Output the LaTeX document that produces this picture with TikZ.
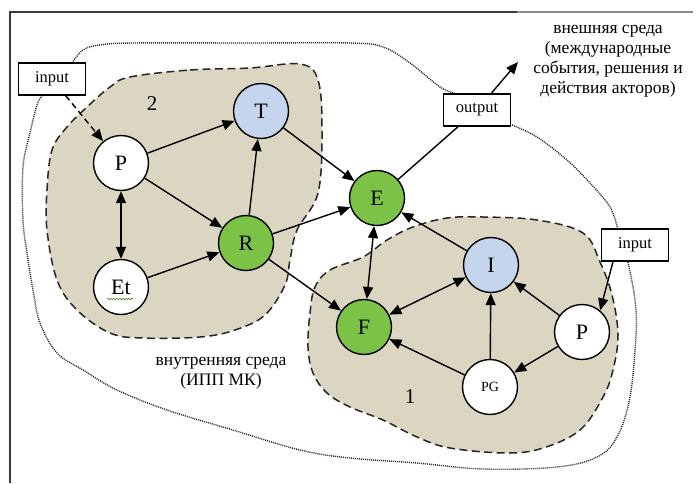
\documentclass[tikz,border=0pt]{standalone}
\usepackage{fontspec}
\setmainfont{Liberation Serif}
\usetikzlibrary{arrows.meta,decorations.pathmorphing}
\definecolor{beige}{RGB}{219,214,194}
\definecolor{ngreen}{RGB}{124,194,70}
\definecolor{nblue}{RGB}{197,213,237}
\definecolor{framegray}{RGB}{60,60,60}
\tikzset{
  vert/.style={circle,draw=black,line width=1.4pt,minimum size=55pt,inner sep=0pt,font=\fontsize{22}{24}\selectfont},
  wvert/.style={vert,fill=white},
  gvert/.style={vert,fill=ngreen},
  bvert/.style={vert,fill=nblue},
  lbox/.style={draw=black,line width=1.3pt,fill=white,minimum width=67pt,minimum height=32pt,inner sep=0pt,font=\fontsize{16.5}{18}\selectfont},
  arr/.style={line width=1.4pt,-{Triangle[length=12pt,width=10pt]}},
  darr/.style={line width=1.4pt,{Triangle[length=12pt,width=10pt]}-{Triangle[length=12pt,width=10pt]}},
  region/.style={fill=beige,draw=black!85,line width=1.5pt,dash pattern=on 8pt off 4.5pt},
  outer/.style={draw=black!85,line width=1.4pt,dash pattern=on 1pt off 1pt},
  lbl/.style={font=\fontsize{17.5}{20}\selectfont,align=center},
}
\begin{document}
\begin{tikzpicture}[x=1pt,y=-1pt]
\useasboundingbox (0,0) rectangle (700,483);
\fill[white] (0,0) rectangle (700,483);
% frame
\draw[framegray,line width=1.6pt] (10,483) -- (10,12) -- (517,12);
\draw[black!45,line width=1.4pt] (517,12) -- (693,12);
% regions
\path[region] plot[smooth cycle,tension=0.6] coordinates {
 (130,77) (190,70) (250,68) (300,64) (318,80) (322,130) (318,193) (297,230)
 (290,260) (285,285) (265,315) (235,330) (200,337) (143,338) (110,333) (77,310)
 (57,280) (47,230) (47,190) (52,150) (67,127) (87,107) (110,87)};
\path[region] plot[smooth cycle,tension=0.6] coordinates {
 (315,287) (330,270) (363,257) (387,240) (413,227) (447,218) (483,217) (537,220)
 (583,233) (600,262) (612,295) (618,335) (613,370) (603,397) (580,430) (543,448)
 (507,453) (450,448) (417,437) (383,420) (350,407) (327,393) (313,373) (308,347) (310,313)};
% outer dotted boundary
\draw[outer] plot[smooth,tension=0.6] coordinates {
 (72,63) (83,50) (100,45) (133,43) (250,43) (350,43) (383,47) (410,63) (440,87) (457,94)};
\draw[outer] plot[smooth,tension=0.6] coordinates {
 (512,125) (537,137) (567,160) (590,183) (610,207) (618,230)};
\draw[outer] plot[smooth,tension=0.6] coordinates {
 (628,262) (635,300) (636,335) (630,397) (617,437) (597,457) (557,467) (483,469)
 (417,463) (350,458) (300,450) (233,430) (167,410) (117,390) (83,370) (57,353)
 (40,323) (33,290) (27,253) (23,220) (23,167) (30,133) (37,105) (42,96)};
% nodes
\node[wvert] (P1) at (121,163) {P};
\node[bvert] (T) at (261,111) {T};
\node[gvert] (R) at (246,243) {R};
\node[wvert] (Et) at (121,287) {Et};
\node[gvert] (E) at (377,198) {E};
\node[gvert] (F) at (364,327) {F};
\node[bvert] (I) at (491,265) {I};
\node[wvert] (P2) at (582,332) {P};
\node[wvert,font=\fontsize{14}{16}\selectfont] (PG) at (490,387) {PG};
\node[lbox] (inL) at (52,79) {input};
\node[lbox] (out) at (477,110) {output};
\node[lbox] (inR) at (635,245) {input};
\coordinate (ext) at (518,62);
% squiggle under Et
\draw[ngreen!70!black,line width=0.6pt,decorate,decoration={snake,amplitude=0.9pt,segment length=3pt}] (107,299) -- (133,299);
% labels
\node[font=\fontsize{21}{22}\selectfont] (n2) at (152,104) {2};
\node[font=\fontsize{21}{22}\selectfont] (n1) at (410,397) {1};
\node[lbl] (inner) at (221,373) {внутренняя среда\\(ИПП МК)};
\node[lbl] (outerlbl) at (608,61) {внешняя среда\\(международные\\события, решения и\\действия акторов)};
% edges
\draw[arr] (P1) -- (T);
\draw[arr] (P1) -- (R);
\draw[darr] (P1) -- (Et);
\draw[arr] (Et) -- (R);
\draw[arr] (R) -- (T);
\draw[arr] (T) -- (E);
\draw[arr] (R) -- (E);
\draw[arr] (R) -- (F);
\draw[darr] (E) -- (F);
\draw[arr] (I) -- (E);
\draw[darr] (F) -- (I);
\draw[arr] (PG) -- (I);
\draw[arr] (PG) -- (F);
\draw[arr] (P2) -- (I);
\draw[arr] (P2) -- (PG);
\draw[line width=1.4pt] (E) -- (out);
\draw[arr] (out) -- (ext);
\draw[arr,dash pattern=on 6pt off 4pt] (inL) -- (P1);
\draw[arr] ([xshift=-22pt]inR.south) -- (P2.50);
\end{tikzpicture}
\end{document}
